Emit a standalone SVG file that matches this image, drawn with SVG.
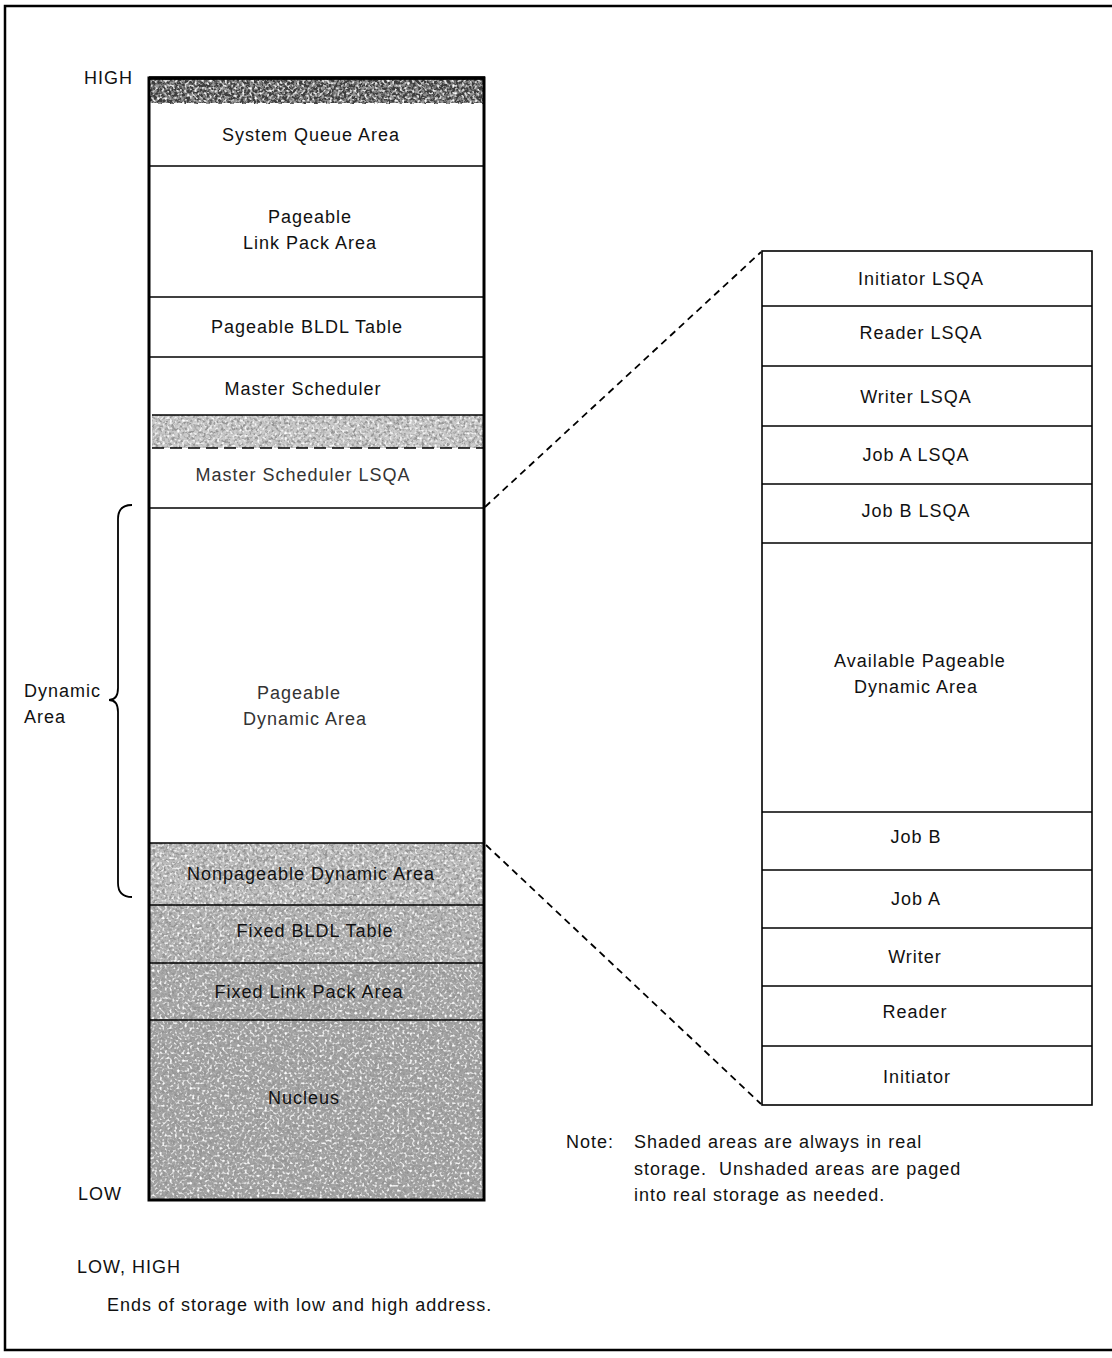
<svg xmlns="http://www.w3.org/2000/svg" width="1112" height="1358" viewBox="0 0 1112 1358">
  <style>
    text { font-family: "Liberation Sans", Arial, sans-serif; font-size: 18px; fill: #111; letter-spacing: 1px; white-space: pre; }
    .c { text-anchor: middle; }
    .thin { fill: #333; }
    .box { fill: #fff; stroke: #000; stroke-width: 1.6; }
    .div { stroke: #000; stroke-width: 1.6; fill: none; }
    .frame { fill: none; stroke: #000; stroke-width: 3; }
    .conn { fill: none; stroke: #000; stroke-width: 1.8; stroke-dasharray: 7 5; }
  </style>
  <defs>
    <!-- speckled halftone texture for the real-storage (shaded) areas -->
    <filter id="grain" x="0" y="0" width="100%" height="100%">
      <feTurbulence type="fractalNoise" baseFrequency="0.32" numOctaves="2" seed="7" result="n"/>
      <feColorMatrix in="n" type="matrix" values="0 0 0 0 0.3  0 0 0 0 0.3  0 0 0 0 0.3  4 0 0 0 -1.75" result="speck"/>
      <feComposite in="speck" in2="SourceGraphic" operator="in" result="dots"/>
      <feTurbulence type="fractalNoise" baseFrequency="0.4" numOctaves="1" seed="21" result="n2"/>
      <feColorMatrix in="n2" type="matrix" values="0 0 0 0 1  0 0 0 0 1  0 0 0 0 1  4 0 0 0 -2.1" result="light"/>
      <feComposite in="light" in2="SourceGraphic" operator="in" result="hi"/>
      <feMerge><feMergeNode in="SourceGraphic"/><feMergeNode in="dots"/><feMergeNode in="hi"/></feMerge>
    </filter>
  </defs>

  <rect width="1112" height="1358" fill="#fff"/>
  <!-- page frame -->
  <path d="M1112,6 H5 V1350 H1112" fill="none" stroke="#000" stroke-width="2.5"/>

  <!-- address labels -->
  <text x="84" y="84">HIGH</text>
  <text x="78" y="1200">LOW</text>

  <!-- storage map (left column) -->
  <g id="top-band">
    <rect x="150" y="78" width="334" height="26" fill="#3c3c3c" filter="url(#grain)"/>
    <line x1="149" y1="78" x2="485" y2="78" stroke="#000" stroke-width="3.5"/>
    <line x1="150" y1="104" x2="484" y2="104" stroke="#fff" stroke-width="2" stroke-dasharray="8 4"/>
  </g>
  <g id="system-queue-area">
    <text class="c" x="311" y="141">System Queue Area</text>
  </g>
  <g id="pageable-lpa">
    <line class="div" x1="150" y1="166" x2="484" y2="166"/>
    <text class="c" x="310" y="223">Pageable</text>
    <text class="c" x="310" y="249">Link Pack Area</text>
  </g>
  <g id="pageable-bldl">
    <line class="div" x1="150" y1="297" x2="484" y2="297"/>
    <text class="c" x="307" y="333">Pageable BLDL Table</text>
  </g>
  <g id="master-scheduler">
    <line class="div" x1="150" y1="357" x2="484" y2="357"/>
    <text class="c" x="303" y="395">Master Scheduler</text>
  </g>
  <g id="lsqa-band">
    <rect x="152" y="415" width="332" height="33" fill="#cacaca" filter="url(#grain)"/>
    <line class="div" x1="152" y1="415" x2="484" y2="415"/>
    <line x1="152" y1="448" x2="484" y2="448" stroke="#000" stroke-width="1.6" stroke-dasharray="12 6"/>
  </g>
  <g id="master-scheduler-lsqa">
    <text class="c thin" x="303" y="481">Master Scheduler LSQA</text>
    <line class="div" x1="150" y1="508" x2="484" y2="508"/>
  </g>
  <g id="pageable-dynamic-area">
    <text class="c thin" x="299" y="699">Pageable</text>
    <text class="c thin" x="305" y="725">Dynamic Area</text>
  </g>
  <g id="nonpageable-dynamic-area">
    <rect x="150" y="843" width="334" height="62" fill="#bebebe" filter="url(#grain)"/>
    <line class="div" x1="150" y1="843" x2="484" y2="843"/>
    <text class="c" x="311" y="880">Nonpageable Dynamic Area</text>
  </g>
  <g id="fixed-bldl">
    <rect x="150" y="905" width="334" height="58" fill="#b4b4b4" filter="url(#grain)"/>
    <line class="div" x1="150" y1="905" x2="484" y2="905"/>
    <text class="c" x="315" y="937">Fixed BLDL Table</text>
  </g>
  <g id="fixed-lpa">
    <rect x="150" y="963" width="334" height="57" fill="#a8a8a8" filter="url(#grain)"/>
    <line class="div" x1="150" y1="963" x2="484" y2="963"/>
    <text class="c" x="309" y="998">Fixed Link Pack Area</text>
  </g>
  <g id="nucleus">
    <rect x="150" y="1020" width="334" height="180" fill="#a4a4a4" filter="url(#grain)"/>
    <line class="div" x1="150" y1="1020" x2="484" y2="1020"/>
    <text class="c" x="304" y="1104">Nucleus</text>
  </g>
  <!-- outline of the whole storage column -->
  <rect class="frame" x="149" y="78" width="335" height="1122"/>

  <!-- brace marking the dynamic area -->
  <g id="dynamic-area-brace">
    <path d="M132,505 Q118,505 118,519 V688 Q118,700 109,700 Q118,700 118,712 V883 Q118,897 132,897" fill="none" stroke="#000" stroke-width="1.8"/>
    <text x="24" y="697">Dynamic</text>
    <text x="24" y="723">Area</text>
  </g>

  <!-- expansion of the pageable dynamic area (right column) -->
  <g id="expansion">
    <rect class="box" x="762" y="251" width="330" height="854" stroke-width="2"/>
    <g id="initiator-lsqa"><text class="c" x="921" y="285">Initiator LSQA</text></g>
    <g id="reader-lsqa"><line class="div" x1="762" y1="306" x2="1092" y2="306"/><text class="c" x="921" y="339">Reader LSQA</text></g>
    <g id="writer-lsqa"><line class="div" x1="762" y1="366" x2="1092" y2="366"/><text class="c" x="916" y="403">Writer LSQA</text></g>
    <g id="job-a-lsqa"><line class="div" x1="762" y1="426" x2="1092" y2="426"/><text class="c" x="916" y="461">Job A LSQA</text></g>
    <g id="job-b-lsqa"><line class="div" x1="762" y1="484" x2="1092" y2="484"/><text class="c" x="916" y="517">Job B LSQA</text></g>
    <g id="available-area"><line class="div" x1="762" y1="543" x2="1092" y2="543"/><text class="c" x="920" y="667">Available Pageable</text><text class="c" x="916" y="693">Dynamic Area</text></g>
    <g id="job-b"><line class="div" x1="762" y1="812" x2="1092" y2="812"/><text class="c" x="916" y="843">Job B</text></g>
    <g id="job-a"><line class="div" x1="762" y1="870" x2="1092" y2="870"/><text class="c" x="916" y="905">Job A</text></g>
    <g id="writer"><line class="div" x1="762" y1="928" x2="1092" y2="928"/><text class="c" x="915" y="963">Writer</text></g>
    <g id="reader"><line class="div" x1="762" y1="986" x2="1092" y2="986"/><text class="c" x="915" y="1018">Reader</text></g>
    <g id="initiator"><line class="div" x1="762" y1="1046" x2="1092" y2="1046"/><text class="c" x="917" y="1083">Initiator</text></g>
  </g>

  <!-- dashed projection lines -->
  <g id="connectors">
    <line class="conn" x1="485" y1="507" x2="761" y2="252"/>
    <line class="conn" x1="486" y1="845" x2="761" y2="1104"/>
  </g>

  <!-- notes -->
  <g id="note">
    <text x="566" y="1148">Note:</text>
    <text x="634" y="1148">Shaded areas are always in real</text>
    <text x="634" y="1175">storage.  Unshaded areas are paged</text>
    <text x="634" y="1201">into real storage as needed.</text>
  </g>
  <g id="legend">
    <text x="77" y="1273">LOW, HIGH</text>
    <text x="107" y="1311">Ends of storage with low and high address.</text>
  </g>
</svg>
